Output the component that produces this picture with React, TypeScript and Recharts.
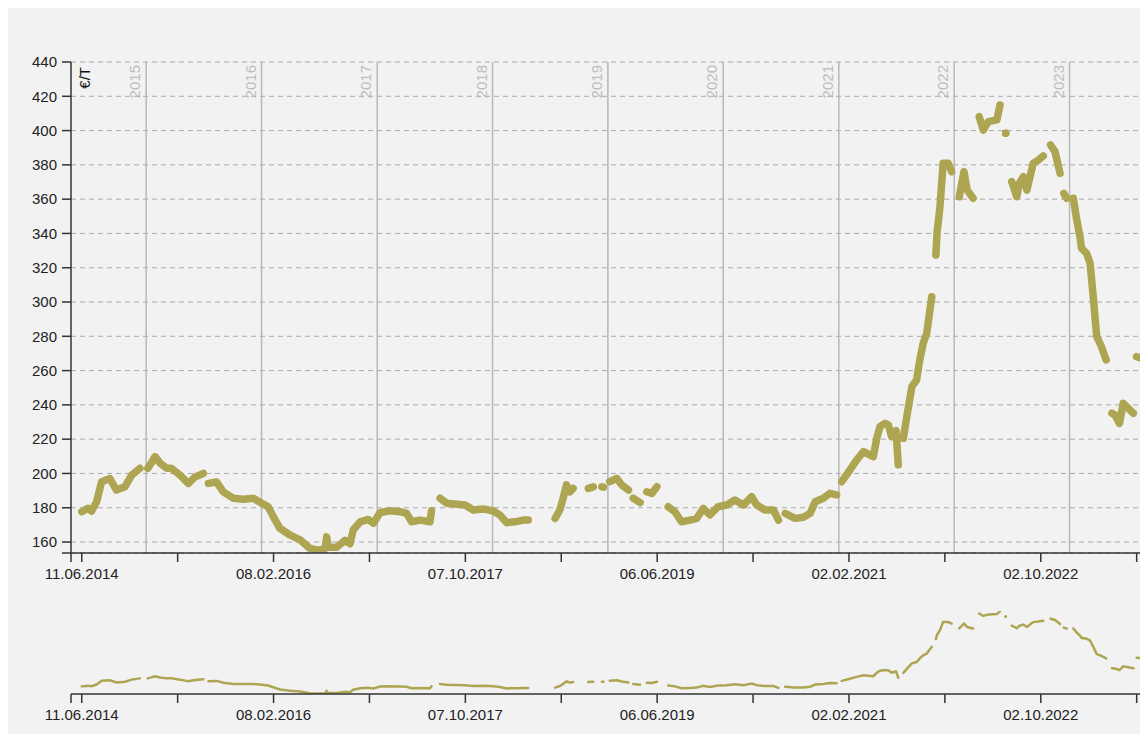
import React from 'react';
import { ComposedChart, Line, XAxis, YAxis, CartesianGrid, ReferenceLine } from 'recharts';

type Point = [string, number | null];

// price in €/T, null marks a hole in the series
const prices2014: Point[] = [
  ['2014-06-11', 177.7], ['2014-07-01', 179.7], ['2014-07-12', 178], ['2014-07-28', 183.5],
  ['2014-08-13', 195.2], ['2014-09-08', 197], ['2014-09-29', 190.3], ['2014-10-26', 192.3],
  ['2014-11-16', 199], ['2014-12-12', 203], ['2014-12-22', null],
];
const prices2015: Point[] = [
  ['2015-01-06', 203], ['2015-01-20', 207], ['2015-01-29', 209.8], ['2015-02-14', 206],
  ['2015-03-07', 203], ['2015-03-22', 203], ['2015-04-18', 199], ['2015-05-14', 194.2],
  ['2015-06-05', 198], ['2015-07-01', 200], ['2015-07-08', null], ['2015-07-17', 194.2],
  ['2015-08-12', 195], ['2015-09-02', 189.3], ['2015-10-04', 185.5], ['2015-11-04', 185],
  ['2015-12-06', 185.5],
];
const prices2016: Point[] = [
  ['2016-01-02', 182.6], ['2016-01-22', 180.6], ['2016-02-07', 174.8], ['2016-02-28', 168],
  ['2016-03-31', 164.1], ['2016-05-02', 161.2], ['2016-06-02', 156.3], ['2016-06-28', 155.3],
  ['2016-07-20', 156], ['2016-07-25', 163], ['2016-07-30', 157], ['2016-08-26', 157],
  ['2016-09-21', 161], ['2016-10-07', 159], ['2016-10-17', 167], ['2016-11-08', 171.8],
  ['2016-12-04', 173.2], ['2016-12-20', 171],
];
const prices2017: Point[] = [
  ['2017-01-10', 177.1], ['2017-02-11', 178.3], ['2017-03-14', 177.7], ['2017-04-04', 176.7],
  ['2017-04-20', 171.8], ['2017-05-17', 172.8], ['2017-06-17', 171.8], ['2017-06-22', 178.3],
  ['2017-07-05', null], ['2017-07-19', 185.5], ['2017-08-09', 182.6], ['2017-09-04', 182.2],
  ['2017-10-06', 181.6], ['2017-11-01', 178.7], ['2017-12-03', 179.3],
];
const prices2018: Point[] = [
  ['2018-01-03', 178.1], ['2018-01-24', 175.8], ['2018-02-15', 171.3], ['2018-03-19', 172],
  ['2018-04-08', 172.8], ['2018-04-24', 172.8], ['2018-06-01', null], ['2018-07-18', 173.8],
  ['2018-08-02', 178.7], ['2018-08-11', 184.5], ['2018-08-23', 193.3], ['2018-09-03', 189.3],
  ['2018-09-13', 191.3], ['2018-09-30', null], ['2018-10-31', 191.3], ['2018-11-16', 192.2],
  ['2018-11-28', null], ['2018-12-13', 192.2], ['2018-12-18', 192], ['2018-12-26', null],
];
const prices2019: Point[] = [
  ['2019-01-07', 195.2], ['2019-01-29', 197.1], ['2019-02-14', 193.3], ['2019-03-07', 190.3],
  ['2019-03-14', null], ['2019-03-22', 185.5], ['2019-04-13', 183], ['2019-04-22', null],
  ['2019-05-04', 189.3], ['2019-05-20', 188.3], ['2019-06-05', 192.3], ['2019-06-20', null],
  ['2019-07-11', 180.6], ['2019-08-01', 177.7], ['2019-08-22', 171.8], ['2019-09-18', 172.8],
  ['2019-10-09', 173.8], ['2019-10-30', 179.6], ['2019-11-20', 175.8], ['2019-12-16', 180.6],
];
const prices2020: Point[] = [
  ['2020-01-12', 181.6], ['2020-02-07', 184.5], ['2020-03-05', 181.6], ['2020-03-31', 186.4],
  ['2020-04-16', 181.6], ['2020-05-12', 178.7], ['2020-06-08', 178.7], ['2020-06-24', 172.8],
  ['2020-07-01', null], ['2020-07-15', 176.7], ['2020-08-15', 173.8], ['2020-09-11', 174.4],
  ['2020-10-02', 176.7], ['2020-10-18', 183.5], ['2020-11-13', 185.5], ['2020-12-04', 188.4],
  ['2020-12-25', 187.5], ['2021-01-01', null],
];
const prices2021: Point[] = [
  ['2021-01-10', 195.2], ['2021-02-05', 202], ['2021-02-26', 207.8], ['2021-03-20', 212.7],
  ['2021-04-20', 209.8], ['2021-05-01', 220.5], ['2021-05-11', 227.3], ['2021-05-27', 229.2],
  ['2021-06-07', 228.2], ['2021-06-17', 221.4], ['2021-07-01', 225], ['2021-07-08', 205],
  ['2021-07-12', null], ['2021-07-24', 220.5], ['2021-08-04', 233.1], ['2021-08-20', 250.6],
  ['2021-09-04', 254.5], ['2021-09-14', 266.2], ['2021-09-25', 275.9], ['2021-10-06', 281.7],
  ['2021-10-22', 303.1], ['2021-10-26', null], ['2021-11-04', 327.4], ['2021-11-08', 341],
  ['2021-11-17', 355.6], ['2021-11-27', 380.9], ['2021-12-13', 380.9], ['2021-12-24', 376],
  ['2021-12-30', null],
];
const prices2022: Point[] = [
  ['2022-01-17', 361.4], ['2022-02-01', 376], ['2022-02-11', 365.3], ['2022-03-02', 360.5],
  ['2022-03-08', null], ['2022-03-21', 408.1], ['2022-04-03', 400.3], ['2022-04-19', 405.2],
  ['2022-05-16', 406.2], ['2022-05-26', 414.9], ['2022-06-01', null], ['2022-06-13', 398.4],
  ['2022-06-20', null], ['2022-07-02', 370.2], ['2022-07-18', 361.4], ['2022-07-26', 369.2],
  ['2022-08-08', 373.1], ['2022-08-19', 365.3], ['2022-08-29', 373.1], ['2022-09-08', 380.9],
  ['2022-09-24', 382.8], ['2022-10-10', 385.2], ['2022-10-16', null], ['2022-11-02', 391.6],
  ['2022-11-16', 387.7], ['2022-12-02', 375.1], ['2022-12-08', null], ['2022-12-14', 363.4],
  ['2022-12-23', 360.5], ['2022-12-30', null],
];
const prices2023: Point[] = [
  ['2023-01-13', 360.5], ['2023-01-24', 347.8], ['2023-02-03', 338.1], ['2023-02-08', 331.3],
  ['2023-02-24', 328.4], ['2023-03-07', 322.6], ['2023-03-17', 303.1], ['2023-03-28', 279.8],
  ['2023-04-10', 274.9], ['2023-04-27', 266.2], ['2023-05-06', null], ['2023-05-15', 235.1],
  ['2023-05-25', 234.1], ['2023-06-08', 229.2], ['2023-06-20', 240.9], ['2023-07-06', 238],
  ['2023-07-22', 235.1], ['2023-07-26', null], ['2023-08-01', 268.1], ['2023-08-20', 267],
];

const yearLines = ['2015', '2016', '2017', '2018', '2019', '2020', '2021', '2022', '2023'];
const xTickLabels = ['11.06.2014', '08.02.2016', '07.10.2017', '06.06.2019', '02.02.2021', '02.10.2022'];
const xMinorTicks = [
  '2015-04-10T12:00Z', '2016-12-07T12:00Z', '2018-08-06T12:00Z',
  '2020-04-04T12:00Z', '2021-12-02T12:00Z', '2023-08-01T12:00Z',
];
const yTicks = [160, 180, 200, 220, 240, 260, 280, 300, 320, 340, 360, 380, 400, 420, 440];

const OLIVE = '#aea552';
const FONT = '"Liberation Sans", Arial, Helvetica, sans-serif';

const toTs = (s: string) => Date.parse(s);
const fromLabel = (l: string) => {
  const [d, m, y] = l.split('.');
  return Date.parse(`${y}-${m}-${d}`);
};

const rows = [
  ...prices2014, ...prices2015, ...prices2016, ...prices2017, ...prices2018,
  ...prices2019, ...prices2020, ...prices2021, ...prices2022, ...prices2023,
].map(([d, v]) => ({ t: toTs(d), price: v }));

const X_DOMAIN: [number, number] = [toTs('2014-05-08'), toTs('2023-08-12')];
const Y_MIN = 153.6;

const labeledTicks = xTickLabels.map(fromLabel);
const labelByTs = new Map(labeledTicks.map((t, i) => [t, xTickLabels[i]]));
const xTicks = [X_DOMAIN[0], ...labeledTicks, ...xMinorTicks.map(toTs)].sort((a, b) => a - b);
const fmtX = (t: number) => labelByTs.get(t) ?? '';
const fmtY = (v: number) => (v === Y_MIN ? '' : String(v));

// only points with no neighbour get a dot, the rest is drawn by the line
const isolatedDot = (r: number) => (props: any) => {
  const { cx, cy, index } = props;
  const cur = rows[index]?.price;
  const prev = rows[index - 1]?.price;
  const next = rows[index + 1]?.price;
  if (cy == null || cur == null || prev != null || next != null) return <g key={`d${index}`} />;
  return <circle key={`d${index}`} cx={cx} cy={cy} r={r} fill={OLIVE} />;
};

function YearLabel(props: any) {
  const { viewBox, text } = props;
  if (!viewBox) return null;
  const x = viewBox.x - 6;
  const y = viewBox.y + 3;
  return (
    <text x={x} y={y} transform={`rotate(-90 ${x} ${y})`} textAnchor="end" fill="#bdbdbd" fontSize={15}>
      {text}
    </text>
  );
}

function UnitLabel(props: any) {
  const { viewBox } = props;
  if (!viewBox) return null;
  const x = viewBox.x + viewBox.width + 19;
  const y = viewBox.y + 5;
  return (
    <text x={x} y={y} transform={`rotate(-90 ${x} ${y})`} textAnchor="end" fill="#111" fontSize={15}>
      €/T
    </text>
  );
}

const axisLine = { stroke: '#333', strokeWidth: 1.5 };
const tickLine = { stroke: '#333', strokeWidth: 1.5 };
const tickText = { fill: '#222', fontSize: 15 };

export default function App() {
  return (
    <div style={{ width: 1132, height: 726, background: '#f2f2f2', fontFamily: FONT, overflow: 'hidden' }}>
      <style>{'html { overflow: hidden; } body { margin: 8px 0 0 8px; }'}</style>
      <ComposedChart width={1132} height={585} data={rows} margin={{ top: 54, right: 0, bottom: 0, left: 0 }}>
        <CartesianGrid vertical={false} stroke="#aaa" strokeDasharray="5 4" />
        <XAxis
          dataKey="t"
          type="number"
          domain={X_DOMAIN}
          allowDataOverflow
          ticks={xTicks}
          tickFormatter={fmtX}
          interval={0}
          height={40}
          tickSize={9}
          tickMargin={6}
          axisLine={axisLine}
          tickLine={tickLine}
          tick={tickText}
        />
        <YAxis
          type="number"
          domain={[Y_MIN, 440]}
          allowDataOverflow
          ticks={[Y_MIN, ...yTicks]}
          tickFormatter={fmtY}
          interval={0}
          width={63}
          tickSize={9}
          tickMargin={5}
          axisLine={axisLine}
          tickLine={tickLine}
          tick={tickText}
          label={<UnitLabel />}
        />
        {yearLines.map((y) => (
          <ReferenceLine
            key={y}
            x={toTs(`${y}-01-01`)}
            stroke="#b8b8b8"
            strokeWidth={1.5}
            label={<YearLabel text={y} />}
          />
        ))}
        <Line
          dataKey="price"
          type="linear"
          stroke={OLIVE}
          strokeWidth={7.5}
          strokeLinecap="round"
          strokeLinejoin="round"
          connectNulls={false}
          dot={isolatedDot(3.75)}
          activeDot={false}
          isAnimationActive={false}
        />
      </ComposedChart>
      <ComposedChart width={1132} height={141} data={rows} margin={{ top: 18, right: 0, bottom: 0, left: 63 }}>
        <XAxis
          dataKey="t"
          type="number"
          domain={X_DOMAIN}
          allowDataOverflow
          ticks={xTicks}
          tickFormatter={fmtX}
          interval={0}
          height={40}
          tickSize={9}
          tickMargin={6}
          axisLine={axisLine}
          tickLine={tickLine}
          tick={tickText}
        />
        <YAxis hide type="number" domain={[Y_MIN, 416]} allowDataOverflow />
        <Line
          dataKey="price"
          type="linear"
          stroke={OLIVE}
          strokeWidth={2.5}
          strokeLinecap="round"
          connectNulls={false}
          dot={isolatedDot(1.4)}
          activeDot={false}
          isAnimationActive={false}
        />
      </ComposedChart>
    </div>
  );
}
